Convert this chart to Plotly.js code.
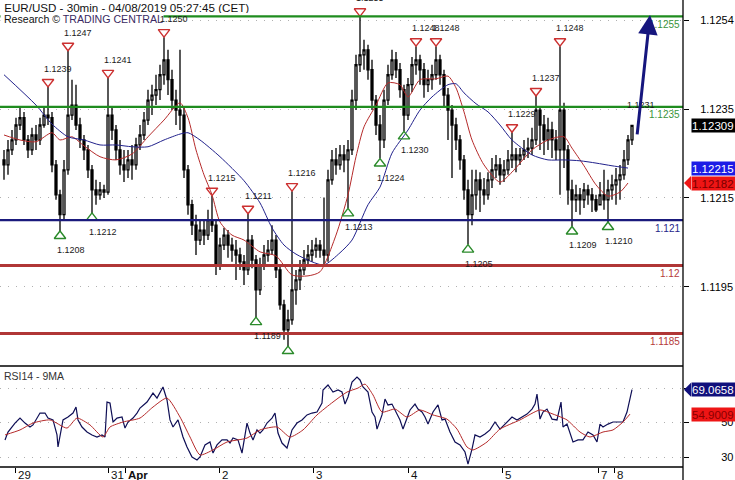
<!DOCTYPE html>
<html><head><meta charset="utf-8">
<script src="https://cdn.plot.ly/plotly-3.0.1.min.js"></script>
<style>html,body{margin:0;padding:0;background:#fff;}#chart{width:735px;height:480px;}</style>
</head><body><div id="chart"></div>
<script>
// ---------- DATA (EUR/USD 30min) ----------
const open=[
1.12233,1.12222,1.12255,1.12277,1.12310,1.12326,1.12277,1.12255,1.12288,1.12277,
1.12310,1.12332,1.12326,1.12222,1.12156,1.12112,1.12211,1.12332,1.12354,1.12310,
1.12277,1.12255,1.12211,1.12167,1.12156,1.12167,1.12162,1.12332,1.12299,1.12255,
1.12222,1.12211,1.12233,1.12222,1.12266,1.12288,1.12321,1.12365,1.12376,1.12388,
1.12421,1.12454,1.12410,1.12365,1.12343,1.12332,1.12211,1.12134,1.12089,1.12056,
1.12078,1.12067,1.12101,1.12089,1.12001,1.12045,1.12067,1.12045,1.12034,1.12023,
1.12008,1.11990,1.12056,1.12012,1.11946,1.12001,1.12023,1.12034,1.12056,1.11990,
1.11913,1.11858,1.11880,1.11946,1.11968,1.11990,1.12012,1.12023,1.12034,1.12045,
1.12034,1.12023,1.12189,1.12233,1.12222,1.12244,1.12233,1.12255,1.12365,1.12443,
1.12465,1.12476,1.12432,1.12365,1.12310,1.12277,1.12365,1.12421,1.12454,1.12432,
1.12388,1.12332,1.12399,1.12443,1.12454,1.12432,1.12399,1.12410,1.12421,1.12454,
1.12421,1.12376,1.12343,1.12310,1.12277,1.12233,1.12167,1.12112,1.12156,1.12189,
1.12167,1.12156,1.12189,1.12211,1.12222,1.12200,1.12211,1.12233,1.12244,1.12233,
1.12244,1.12255,1.12259,1.12277,1.12343,1.12310,1.12277,1.12299,1.12277,1.12255,
1.12343,1.12255,1.12167,1.12145,1.12156,1.12145,1.12167,1.12156,1.12145,1.12134,
1.12156,1.12145,1.12167,1.12178,1.12189,1.12200,1.12233,1.12277];
const high=[
1.12255,1.12277,1.12299,1.12326,1.12348,1.12339,1.12288,1.12304,1.12310,1.12326,
1.12348,1.12394,1.12339,1.12233,1.12167,1.12233,1.12474,1.12410,1.12399,1.12326,
1.12288,1.12266,1.12222,1.12189,1.12184,1.12178,1.12414,1.12348,1.12310,1.12277,
1.12255,1.12255,1.12266,1.12282,1.12310,1.12339,1.12388,1.12399,1.12421,1.12443,
1.12504,1.12476,1.12432,1.12388,1.12476,1.12348,1.12222,1.12145,1.12112,1.12101,
1.12101,1.12123,1.12154,1.12101,1.12061,1.12083,1.12078,1.12061,1.12056,1.12039,
1.12023,1.12114,1.12067,1.12023,1.12017,1.12045,1.12056,1.12089,1.12067,1.12001,
1.11924,1.11902,1.12164,1.11990,1.12012,1.12034,1.12045,1.12056,1.12061,1.12056,
1.12150,1.12211,1.12255,1.12259,1.12266,1.12266,1.12277,1.12388,1.12465,1.12550,
1.12498,1.12487,1.12454,1.12376,1.12332,1.12388,1.12443,1.12476,1.12471,1.12447,
1.12399,1.12414,1.12460,1.12484,1.12465,1.12447,1.12432,1.12443,1.12484,1.12465,
1.12432,1.12392,1.12354,1.12326,1.12288,1.12244,1.12189,1.12211,1.12211,1.12206,
1.12193,1.12206,1.12237,1.12244,1.12237,1.12233,1.12255,1.12294,1.12259,1.12259,
1.12277,1.12282,1.12304,1.12374,1.12348,1.12332,1.12326,1.12317,1.12299,1.12484,
1.12359,1.12266,1.12189,1.12178,1.12171,1.12182,1.12178,1.12171,1.12156,1.12184,
1.12211,1.12189,1.12200,1.12215,1.12222,1.12255,1.12288,1.12310];
const low=[
1.12189,1.12200,1.12244,1.12266,1.12299,1.12266,1.12237,1.12244,1.12255,1.12266,
1.12304,1.12310,1.12206,1.12145,1.12076,1.12101,1.12200,1.12321,1.12299,1.12259,
1.12233,1.12193,1.12116,1.12134,1.12145,1.12149,1.12156,1.12277,1.12233,1.12200,
1.12184,1.12193,1.12189,1.12211,1.12255,1.12277,1.12310,1.12332,1.12354,1.12365,
1.12399,1.12376,1.12343,1.12310,1.12299,1.12193,1.12112,1.12067,1.12023,1.12045,
1.12045,1.12056,1.12074,1.11979,1.11990,1.12034,1.12017,1.12008,1.11968,1.11990,
1.11957,1.11979,1.11994,1.11886,1.11935,1.11990,1.12008,1.12023,1.11972,1.11902,
1.11836,1.11822,1.11869,1.11913,1.11946,1.11979,1.12001,1.12008,1.12017,1.12017,
1.12001,1.12008,1.12178,1.12200,1.12211,1.12206,1.12126,1.12244,1.12343,1.12427,
1.12432,1.12410,1.12343,1.12288,1.12236,1.12259,1.12354,1.12410,1.12414,1.12370,
1.12296,1.12321,1.12383,1.12421,1.12399,1.12370,1.12383,1.12388,1.12410,1.12399,
1.12348,1.12277,1.12193,1.12255,1.12211,1.12145,1.12046,1.12089,1.12123,1.12118,
1.12134,1.12145,1.12171,1.12193,1.12178,1.12184,1.12200,1.12215,1.12206,1.12222,
1.12233,1.12237,1.12244,1.12266,1.12255,1.12244,1.12255,1.12237,1.12233,1.12156,
1.12215,1.12134,1.12086,1.12118,1.12112,1.12127,1.12134,1.12118,1.12118,1.12134,
1.12123,1.12096,1.12145,1.12134,1.12145,1.12189,1.12222,1.12266];
const close=[
1.12222,1.12255,1.12277,1.12310,1.12326,1.12277,1.12255,1.12288,1.12277,1.12310,
1.12332,1.12326,1.12222,1.12156,1.12112,1.12211,1.12332,1.12354,1.12310,1.12277,
1.12255,1.12211,1.12167,1.12156,1.12167,1.12162,1.12332,1.12299,1.12255,1.12222,
1.12211,1.12233,1.12222,1.12266,1.12288,1.12321,1.12365,1.12376,1.12388,1.12421,
1.12454,1.12410,1.12365,1.12343,1.12332,1.12211,1.12134,1.12089,1.12056,1.12078,
1.12067,1.12101,1.12089,1.12001,1.12045,1.12067,1.12045,1.12034,1.12023,1.12008,
1.11990,1.12056,1.12012,1.11946,1.12001,1.12023,1.12034,1.12056,1.11990,1.11913,
1.11858,1.11880,1.11946,1.11968,1.11990,1.12012,1.12023,1.12034,1.12045,1.12034,
1.12023,1.12189,1.12233,1.12222,1.12244,1.12233,1.12255,1.12365,1.12443,1.12465,
1.12476,1.12432,1.12365,1.12310,1.12277,1.12365,1.12421,1.12454,1.12432,1.12388,
1.12332,1.12399,1.12443,1.12454,1.12432,1.12399,1.12410,1.12421,1.12454,1.12421,
1.12376,1.12343,1.12310,1.12277,1.12233,1.12167,1.12112,1.12156,1.12189,1.12167,
1.12156,1.12189,1.12211,1.12222,1.12200,1.12211,1.12233,1.12244,1.12233,1.12244,
1.12255,1.12259,1.12277,1.12343,1.12310,1.12277,1.12299,1.12277,1.12255,1.12343,
1.12255,1.12167,1.12145,1.12156,1.12145,1.12167,1.12156,1.12145,1.12123,1.12156,
1.12145,1.12167,1.12178,1.12189,1.12200,1.12233,1.12277,1.12309];

// moving averages on price (bar index, value)
const maRedIdx=[0,4,8,12,14,17,20,24,28,32,36,40,44,46,48,50,52,54,57,60,64,68,72,76,79,83,86,88,90,93,96,99,101,104,108,111,113,115,117,120,124,127,132,136,140,142,145,148,151,154,156];
const maRedVal=[1.12288,1.12277,1.12273,1.12293,1.12277,1.12284,1.12264,1.12240,1.12233,1.12246,1.12284,1.12321,1.12359,1.12326,1.12255,1.12200,1.12156,1.12096,1.12067,1.12056,1.12030,1.12021,1.11979,1.11977,1.11986,1.12067,1.12156,1.12240,1.12306,1.12354,1.12403,1.12399,1.12372,1.12410,1.12412,1.12418,1.12392,1.12339,1.12277,1.12222,1.12184,1.12206,1.12255,1.12277,1.12284,1.12259,1.12220,1.12178,1.12153,1.12162,1.12182];
const maBlueIdx=[0,8,12,16,20,24,28,32,36,40,44,46,49,54,60,64,67,70,73,77,80,84,87,91,94,97,101,104,107,111,113,115,118,121,124,127,132,136,140,144,148,152,156];
const maBlueVal=[1.12421,1.12354,1.12312,1.12284,1.12277,1.12266,1.12266,1.12262,1.12262,1.12277,1.12290,1.12293,1.12277,1.12240,1.12187,1.12138,1.12083,1.12045,1.12025,1.12008,1.12001,1.12028,1.12056,1.12134,1.12173,1.12248,1.12299,1.12343,1.12372,1.12399,1.12401,1.12381,1.12357,1.12339,1.12310,1.12277,1.12244,1.12233,1.12233,1.12231,1.12226,1.12220,1.12215];

// RSI14 and its 9MA
const rsiIdx=[0.25,1,2.75,4,5.25,6.5,7.25,8.25,9,10.25,11,12.25,13.25,13.5,14.5,14.75,16,17.25,18,18.5,19.5,20.75,22,23.25,24.5,25.25,25.75,26.5,27.25,28.25,29.5,30.25,31,32.25,33.25,34,35.75,36.5,37.25,38.25,39.75,40.75,41.5,42.25,43.5,44.75,45.75,47,48.25,49,50.25,51.5,52.25,53.25,54.5,55.75,56.5,57.25,58.5,59.5,60.75,61.5,62.25,63.25,64,64.75,65.75,67,67.75,68.5,69.5,70.75,72,73.25,74.5,75.75,77,78.25,79.5,79.75,81,82.25,83.5,84.5,85.25,86,87,88.25,89,89.75,91,92,92.75,93.25,94.5,95.25,96,97,97.75,99,99.75,100.75,101.5,102.75,103.5,104.5,105.25,106,107.25,108.5,109.5,110.25,111.5,112.75,114,115.25,116,117,117.75,119,120.25,121.5,122.75,124,125.75,127,128.25,129.5,130.75,132,132.75,133.25,134,134.75,135.75,137,138.25,139.25,139.75,140.75,141.5,142.25,143.5,144.75,146,147.25,148.25,149,149.75,151,152.25,153.5,154.75,155.75,157];
const rsiVal=[39.9,44.5,49.7,52.6,49.7,47.4,48.6,52.6,55.5,55.5,52.6,51.5,42.8,35.8,46.8,51.5,53.2,55.5,59.0,51.5,47.4,44.5,42.8,41.6,42.8,41.6,61.9,61.3,50.3,52.6,53.2,46.8,50.3,52.6,55.5,58.4,61.9,64.8,67.1,64.2,70.6,63.1,51.5,47.4,51.5,41.6,35.8,30.0,28.3,30.0,37.0,38.7,32.3,37.0,39.9,39.9,38.1,41.0,39.9,32.3,49.7,43.9,39.9,45.7,43.9,45.7,49.7,52.6,55.5,43.9,38.1,35.2,45.7,49.7,51.5,54.4,55.5,56.1,61.3,68.9,71.8,67.7,68.9,67.7,60.7,64.8,73.5,76.4,74.7,70.6,67.7,56.1,53.2,46.2,54.4,63.6,60.2,60.7,57.3,51.5,46.2,52.0,57.3,60.7,57.8,56.1,53.2,49.1,56.1,60.2,51.5,52.0,44.5,38.7,37.0,32.9,25.9,34.6,42.8,41.6,43.3,45.7,50.3,46.2,50.3,53.2,51.5,53.2,54.9,57.8,60.7,66.5,52.0,56.1,57.8,52.0,51.5,61.9,47.4,49.1,44.5,38.7,39.9,39.9,44.5,42.8,38.7,49.1,47.4,49.1,50.3,50.3,50.3,56.1,69.0658];
const rsiMaIdx=[0.25,4,7.25,11.5,15.75,18.25,21.5,24.75,26.5,29.75,34,37.25,40.75,44,46.5,49,52.25,55.75,60.75,64,68.25,71.5,74.75,78.25,82.25,85.75,88.5,90.25,92.25,94.5,97.75,100.75,104,107.25,110.75,113.25,115.75,117.25,120.75,124,129,134,137.25,140.75,144,146.5,149.75,152.25,154.75,156.5];
const rsiMaVal=[42.8,45.7,49.7,51.5,46.8,52.6,48.6,41.6,47.4,50.3,52.6,59.0,64.2,53.2,41.6,31.2,34.1,38.7,41.0,45.7,47.4,41.6,45.7,54.4,61.9,67.7,70.0,72.3,66.0,56.1,57.8,53.2,57.3,54.4,52.0,46.2,35.8,34.1,38.7,46.2,51.5,57.3,54.9,51.5,44.5,41.6,44.5,45.7,50.3,54.9009];

// labelled swing highs / lows
const hiIdx=[11,16,26,40,52,61,72,89,103,108,127,133,139];
const hiLabel=['1.1239','1.1247','1.1241','1.1250','1.1215','1.1211','1.1216','1.1255','1.1248','1.1248','1.1229','1.1237','1.1248'];
const loIdx=[14,22,63,71,86,94,100,116,142,151];
const loLabel=['1.1208','1.1212','1.1189','','1.1213','1.1224','1.1230','1.1205','1.1209','1.1210'];
const lastHighLabel='1.1231';

// support / resistance levels
const levelVals=[1.1255,1.1235,1.121,1.12,1.1185];
const levelText=['1.1255','1.1235','1.121','1.12','1.1185'];
const levelKind=['res','res','pivot','sup','sup'];

// forecast arrow (bar index, price)
const arrowFrom=[158.25,1.12286];
const arrowTo=[161.5,1.12553];

// axis ticks
const xTickIdx=[2.75,26,30.25,53.75,77.25,101,124.5,148.5,152.5];
const xTickText=['29','31','Apr','2','3','4','5','7','8'];
const yTickVals=[1.12541,1.12345,1.12149,1.11953];
const yTickText=['1.1254','1.1235','1.1215','1.1195'];
const rsiTickVals=[30,50,70];
const rsiTickText=['30','50',''];

// current-value tags
const priceTagVals=[1.12309,1.12215,1.12182];
const priceTagText=['1.12309','1.12215','1.12182'];
const rsiTagVals=[69.0658,54.9009];
const rsiTagText=['69.0658','54.9009'];

// ---------- LAYOUT / STYLE ----------
const W=735,H=480,MR=52,MB=13;
const plotW=W-MR, plotH=H-MB;
const rsiFrac=101/plotH;
const yMainRange=[1.11778,1.12586];
const yRsiRange=[24.2,82.8];
const pxMain=(yMainRange[1]-yMainRange[0])/(plotH*(1-rsiFrac));
const pxRsi=(yRsiRange[1]-yRsiRange[0])/(plotH*rsiFrac);
const FONT='"Liberation Sans", Arial, sans-serif';
const kindColor={res:'#1f8c1f',pivot:'#1a1a7c',sup:'#b03636'};
const kindText={res:'#3a943a',pivot:'#26268a',sup:'#b53a3a'};
const kindWidth={res:2.2,pivot:2.2,sup:3};
const barIdx=close.map((_,i)=>i);

const traces=[
 {type:'candlestick',x:barIdx,open:open,high:high,low:low,close:close,xaxis:'x',yaxis:'y',
  increasing:{line:{color:'#000',width:1.3},fillcolor:'#ffffff'},
  decreasing:{line:{color:'#000',width:1.3},fillcolor:'#000000'},
  whiskerwidth:0,hoverinfo:'skip',showlegend:false},
 {type:'scatter',mode:'lines',x:maRedIdx,y:maRedVal,yaxis:'y',line:{color:'#b52a2a',width:1,shape:'spline',smoothing:0.7},hoverinfo:'skip',showlegend:false},
 {type:'scatter',mode:'lines',x:maBlueIdx,y:maBlueVal,yaxis:'y',line:{color:'#22228c',width:1,shape:'spline',smoothing:0.7},hoverinfo:'skip',showlegend:false},
 {type:'scatter',mode:'markers',x:hiIdx,y:hiIdx.map(i=>high[i]+5*pxMain),yaxis:'y',
  marker:{symbol:'triangle-down-open',size:10,color:'#cc3030',line:{width:1.4,color:'#cc3030'}},hoverinfo:'skip',showlegend:false,cliponaxis:false},
 {type:'scatter',mode:'markers',x:loIdx,y:loIdx.map(i=>low[i]-5*pxMain),yaxis:'y',
  marker:{symbol:'triangle-up-open',size:10,color:'#2a8a2a',line:{width:1.4,color:'#2a8a2a'}},hoverinfo:'skip',showlegend:false,cliponaxis:false},
 {type:'scatter',mode:'lines',x:rsiIdx,y:rsiVal,yaxis:'y2',line:{color:'#0e0e55',width:1.2},hoverinfo:'skip',showlegend:false},
 {type:'scatter',mode:'lines',x:rsiMaIdx,y:rsiMaVal,yaxis:'y2',line:{color:'#b52a2a',width:1,shape:'spline',smoothing:0.6},hoverinfo:'skip',showlegend:false}
];

const shapes=[];
levelVals.forEach((v,k)=>{
 shapes.push({type:'line',xref:'paper',yref:'y',x0:0,x1:1,y0:v,y1:v,line:{color:kindColor[levelKind[k]],width:kindWidth[levelKind[k]]}});
});
// frames
shapes.push({type:'line',xref:'paper',yref:'paper',x0:0,x1:1,y0:rsiFrac,y1:rsiFrac,line:{color:'#000',width:1.5}});
shapes.push({type:'line',xref:'paper',yref:'paper',x0:0,x1:1,y0:0,y1:0,line:{color:'#000',width:1.5}});
shapes.push({type:'line',xref:'paper',yref:'paper',x0:1,x1:1,y0:-MB/plotH,y1:1,line:{color:'#000',width:1.3}});

const ann=[];
// title
ann.push({xref:'paper',yref:'paper',x:0,y:1-7/plotH,xanchor:'left',yanchor:'middle',xshift:0,showarrow:false,
 text:'\u00a0EUR/USD - 30min - 04/08/2019 05:27:45 (CET)',font:{family:FONT,size:11.6,color:'#111'},bgcolor:'#fff',borderpad:0,height:12});
ann.push({xref:'paper',yref:'paper',x:0,y:1-19.5/plotH,xanchor:'left',yanchor:'middle',xshift:0,showarrow:false,
 text:'\u00a0Research © <span style="color:#3a2a62">TRADING CENTRAL</span>',font:{family:FONT,size:10.6,color:'#111'},bgcolor:'#fff',borderpad:0,height:12});
ann.push({xref:'paper',yref:'paper',x:0,y:rsiFrac,xanchor:'left',yanchor:'middle',xshift:2,yshift:-10,showarrow:false,
 text:'RSI14 - 9MA',font:{family:FONT,size:10.5,color:'#333'}});
// level labels
levelVals.forEach((v,k)=>{
 ann.push({xref:'paper',yref:'y',x:1,y:v,xanchor:'right',yanchor:'middle',xshift:-1,yshift:-8,showarrow:false,
  text:levelText[k],font:{family:FONT,size:10,color:kindText[levelKind[k]]}});
});
// swing labels
hiIdx.forEach((i,k)=>{
 ann.push({xref:'x',yref:'y',x:i,y:high[i]+5*pxMain,xshift:10,yshift:13,showarrow:false,
  text:hiLabel[k],font:{family:FONT,size:9,color:'#1a1a1a'}});
});
loIdx.forEach((i,k)=>{
 if(!loLabel[k]) return;
 ann.push({xref:'x',yref:'y',x:i,y:low[i]-5*pxMain,xshift:11,yshift:-14,showarrow:false,
  text:loLabel[k],font:{family:FONT,size:9,color:'#1a1a1a'}});
});
const lastI=close.length-1;
ann.push({xref:'x',yref:'y',x:lastI,y:high[lastI],xshift:9,yshift:20,showarrow:false,
 text:lastHighLabel,font:{family:FONT,size:9,color:'#1a1a1a'}});
// x tick labels
xTickIdx.forEach((t,k)=>{
 const s=xTickText[k];
 ann.push({xref:'x',yref:'paper',x:t,y:0,xanchor:'left',yanchor:'top',xshift:1,yshift:0,showarrow:false,
  text:isNaN(Number(s))?'<b>'+s+'</b>':s,font:{family:FONT,size:11.5,color:'#111'}});
});
// forecast arrow
ann.push({xref:'x',yref:'y',axref:'x',ayref:'y',x:arrowTo[0],y:arrowTo[1],ax:arrowFrom[0],ay:arrowFrom[1],
 showarrow:true,arrowhead:2,arrowsize:1.3,arrowwidth:3,arrowcolor:'#16167e',standoff:0,text:''});
// value tags
const tagX=1+8/plotW;
const tagStyle=[{bg:'#000000',fg:'#ffffff',notch:false},{bg:'#1c1ce6',fg:'#ffffff',notch:false},{bg:'#ee1515',fg:'#7a0000',notch:true}];
priceTagVals.forEach((v,k)=>{
 const st=tagStyle[k];
 ann.push({xref:'paper',yref:'y',x:tagX,y:v,xanchor:'left',yanchor:'middle',showarrow:false,text:priceTagText[k],
  align:'left',width:44,height:13,borderpad:0,bgcolor:st.bg,font:{family:FONT,size:11.5,color:st.fg}});
 if(st.notch){const h=7*pxMain;
  shapes.push({type:'path',xref:'paper',yref:'y',path:`M ${1+1/plotW} ${v} L ${tagX} ${v+h} L ${tagX} ${v-h} Z`,fillcolor:st.bg,line:{width:0}});}
});
const rsiTagStyle=[{bg:'#10107c',fg:'#ffffff',notch:true},{bg:'#ee1515',fg:'#8a0000',notch:false}];
rsiTagVals.forEach((v,k)=>{
 const st=rsiTagStyle[k];
 ann.push({xref:'paper',yref:'y2',x:tagX,y:v,xanchor:'left',yanchor:'middle',showarrow:false,text:rsiTagText[k],
  align:'left',width:44,height:13,borderpad:0,bgcolor:st.bg,font:{family:FONT,size:11.5,color:st.fg}});
 if(st.notch){const h=7*pxRsi;
  shapes.push({type:'path',xref:'paper',yref:'y2',path:`M ${1+1/plotW} ${v} L ${tagX} ${v+h} L ${tagX} ${v-h} Z`,fillcolor:st.bg,line:{width:0}});}
});

const layout={
 width:W,height:H,margin:{l:0,r:MR,t:0,b:MB,pad:0},
 paper_bgcolor:'#fff',plot_bgcolor:'#fff',showlegend:false,hovermode:false,
 font:{family:FONT,size:11,color:'#000'},
 xaxis:{range:[-1,(plotW/4)-1],anchor:'y2',showgrid:false,zeroline:false,showline:false,
  ticks:'outside',ticklen:5,tickwidth:1,tickcolor:'#000',tickvals:xTickIdx,showticklabels:false,
  rangeslider:{visible:false},fixedrange:true},
 yaxis:{domain:[rsiFrac,1],range:yMainRange,side:'right',anchor:'x',tickvals:yTickVals,ticktext:yTickText,
  ticks:'outside',ticklen:5,tickwidth:1,tickcolor:'#000',showgrid:true,gridcolor:'#b0b0b0',griddash:'1px,7px',gridwidth:1,
  zeroline:false,showline:false,tickfont:{family:FONT,size:11,color:'#000'},ticklabelstandoff:9,fixedrange:true},
 yaxis2:{domain:[0,rsiFrac],range:yRsiRange,side:'right',anchor:'x',tickvals:rsiTickVals,ticktext:rsiTickText,
  ticks:'outside',ticklen:5,tickwidth:1,tickcolor:'#000',showgrid:true,gridcolor:'#b0b0b0',griddash:'1px,7px',gridwidth:1,
  zeroline:false,showline:false,tickfont:{family:FONT,size:11,color:'#000'},ticklabelstandoff:30,fixedrange:true},
 shapes:shapes,annotations:ann
};
Plotly.newPlot('chart',traces,layout,{staticPlot:true,displayModeBar:false});
</script></body></html>
